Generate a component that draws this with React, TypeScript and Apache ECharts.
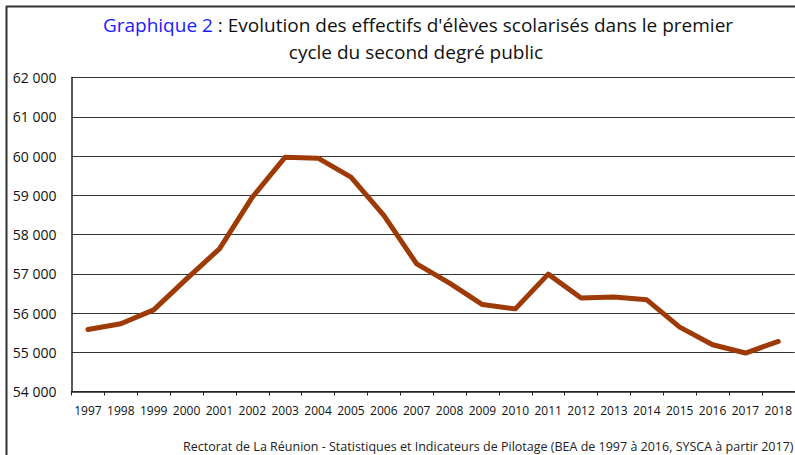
import React, { useEffect, useRef } from "react";
import * as echarts from "echarts";

const years = ["1997","1998","1999","2000","2001","2002","2003","2004","2005","2006","2007","2008","2009","2010","2011","2012","2013","2014","2015","2016","2017","2018"];
const effectifs = [55580,55725,56080,56870,57635,58950,59970,59945,59460,58485,57250,56760,56215,56105,56990,56380,56405,56335,55640,55190,54980,55275];
const titleBlue = "Graphique 2";
const titleRest = " : Evolution des effectifs d'élèves scolarisés dans le premier";
const titleLine2 = "cycle du second degré public";
const footer = "Rectorat de La Réunion - Statistiques et Indicateurs de Pilotage (BEA de 1997 à 2016, SYSCA à partir 2017)";

const FONT = "Open Sans, Roboto, sans-serif";

export default function App() {
  const ref = useRef<HTMLDivElement>(null);
  useEffect(() => {
    document.body.style.margin = "0";
    const chart = echarts.init(ref.current!, null, { renderer: "svg" });
    chart.setOption({
      animation: false,
      backgroundColor: "#ffffff",
      textStyle: { fontFamily: FONT },
      grid: { left: 71.5, top: 77.5, width: 726, height: 314 },
      xAxis: {
        type: "category",
        data: years,
        boundaryGap: true,
        axisLine: { show: true, lineStyle: { color: "#222", width: 1.5 } },
        axisTick: { show: true, length: 4, interval: 0, lineStyle: { color: "#222" } },
        axisLabel: { interval: 0, color: "#111", fontSize: 12, margin: 13, fontFamily: FONT },
        splitLine: { show: false },
      },
      yAxis: {
        type: "value",
        min: 54000,
        max: 62000,
        interval: 1000,
        axisLine: { show: true, lineStyle: { color: "#222", width: 1.5 } },
        axisTick: { show: false },
        axisLabel: {
          color: "#111",
          fontSize: 14,
          margin: 15,
          fontFamily: FONT,
          formatter: (v: number) => {
            const s = String(Math.round(v));
            return s.slice(0, s.length - 3) + " " + s.slice(-3);
          },
        },
        splitLine: { show: true, lineStyle: { color: "#333", width: 1 } },
      },
      series: [
        {
          type: "line",
          data: effectifs,
          showSymbol: false,
          symbol: "none",
          lineStyle: { color: "#9e3a06", width: 5, cap: "round", join: "round" },
          itemStyle: { color: "#9e3a06" },
        },
      ],
      graphic: [
        { type: "line", shape: { x1: 6.5, y1: 6, x2: 6.5, y2: 455 }, style: { stroke: "#333", lineWidth: 2 } },
        { type: "line", shape: { x1: 6, y1: 6.5, x2: 795, y2: 6.5 }, style: { stroke: "#333", lineWidth: 2 } },
        {
          type: "text",
          x: 418,
          y: 25,
          style: {
            text: "{b|" + titleBlue + "}{k|" + titleRest + "}",
            align: "center",
            verticalAlign: "middle",
            rich: {
              b: { fill: "#1a1aff", fontSize: 19, fontFamily: FONT },
              k: { fill: "#111", fontSize: 19, fontFamily: FONT },
            },
          },
        },
        {
          type: "text",
          x: 416,
          y: 52,
          style: { text: titleLine2, align: "center", verticalAlign: "middle", fill: "#111", fontSize: 19, fontFamily: FONT },
        },
        {
          type: "text",
          x: 183,
          y: 446,
          style: { text: footer, align: "left", verticalAlign: "middle", fill: "#222", fontSize: 12.5, fontFamily: FONT },
        },
      ],
    });
    return () => chart.dispose();
  }, []);
  return <div ref={ref} style={{ width: 795, height: 455 }} />;
}
